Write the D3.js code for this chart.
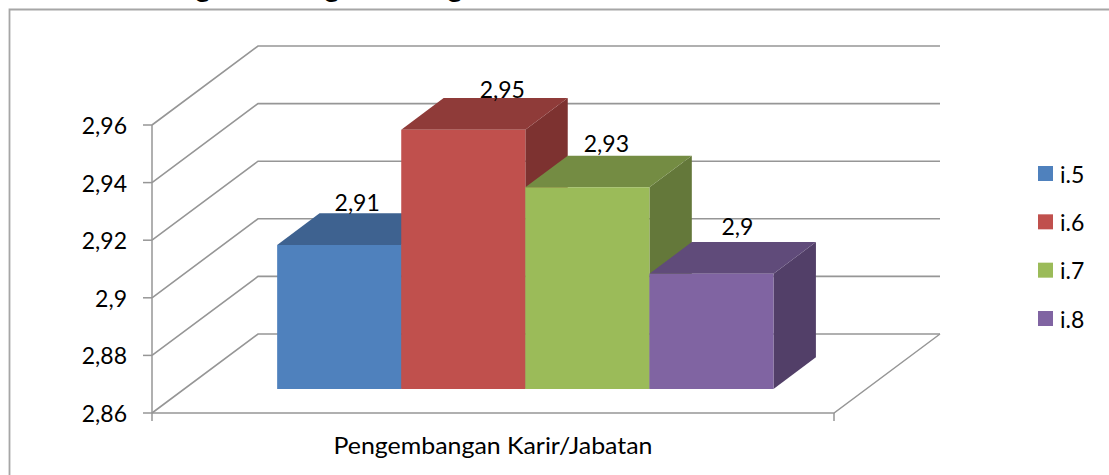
<!DOCTYPE html>
<html><head><meta charset="utf-8">
<script src="https://cdn.jsdelivr.net/npm/d3@7"></script>
<style>html,body{margin:0;background:#fff}svg{display:block}text{font-family:Lato,"Open Sans",sans-serif;fill:#000}</style>
</head><body><svg width="1109" height="475"></svg>
<script>
const seriesNames=["i.5","i.6","i.7","i.8"];
const seriesValues=[2.91,2.95,2.93,2.9];
const valueLabels=["2,91","2,95","2,93","2,9"];
const tickValues=[2.86,2.88,2.9,2.92,2.94,2.96];
const tickLabels=["2,86","2,88","2,9","2,92","2,94","2,96"];
const categoryLabel="Pengembangan Karir/Jabatan";
const titleFragments=["g","g","g"];
const frontColors=["#4f81bd","#c0504d","#9bbb59","#8064a2"];
const topColors=["#3e6290","#8f3b39","#748c43","#604b7a"];
const sideColors=["#345378","#7d3230","#64783a","#523f68"];
// label nudges relative to each bar's top
const labelDx=[-3,18,-2,5];
const labelDy=[-2,0,-4,-7];

const svg=d3.select("svg");
const y=d3.scaleLinear().domain([2.86,2.96]).range([413,125]);
const x=d3.scaleBand().domain(seriesNames).range([152,834]).paddingInner(0).paddingOuter(0.748);
const depthX=d3.scaleLinear().domain([0,1]).range([0,106]);
const depthY=d3.scaleLinear().domain([0,1]).range([0,-79]);
const grey="#969696";
const pt=(px,val,d)=>[px+depthX(d),y(val)+depthY(d)];
const line=d3.line();

// chart frame
svg.append("path").attr("d","M9.5,475V9.5H1109").attr("fill","none").attr("stroke","#a6a6a6").attr("stroke-width",1.8);

// only the descenders of the title survive the crop at the top edge
const titleX=[203,332,455];
titleFragments.forEach((t,i)=>svg.append("text").attr("x",titleX[i]).attr("y",-3.5).attr("text-anchor","middle").attr("font-weight",900).attr("font-size",28).text(t));

// walls and floor gridlines
const [x0,x1]=x.range();
tickValues.forEach(t=>{
  svg.append("path").attr("fill","none").attr("stroke",grey).attr("stroke-width",1.6)
    .attr("d",line([pt(x0,t,0),pt(x0,t,1),pt(x1,t,1)]));
});
svg.append("path").attr("fill","none").attr("stroke",grey).attr("stroke-width",1.5)
  .attr("d",line([pt(x1,2.86,1),pt(x1,2.86,0),pt(x0,2.86,0)]));
// value axis
svg.append("path").attr("fill","none").attr("stroke",grey).attr("stroke-width",1.5)
  .attr("d",line([[x0,y(2.96)],[x0,y(2.86)]]));
tickValues.forEach((t,i)=>{
  svg.append("path").attr("stroke",grey).attr("stroke-width",1.5).attr("d",line([[x0-9,y(t)],[x0,y(t)]]));
  svg.append("text").attr("x",x0-25).attr("y",y(t)+9).attr("text-anchor","end").attr("font-size",23).text(tickLabels[i]);
});
// category ticks
[x0,x1].forEach(px=>svg.append("path").attr("stroke",grey).attr("stroke-width",1.5).attr("d",line([[px,y(2.86)],[px,y(2.86)+8]])));
svg.append("text").attr("x",(x0+x1)/2).attr("y",454).attr("text-anchor","middle").attr("font-size",23)
  .attr("textLength",319).attr("lengthAdjust","spacingAndGlyphs").text(categoryLabel);

// bars
const D0=0.305,D1=0.705;
seriesNames.forEach((s,i)=>{
  const l=x(s),r=l+x.bandwidth(),v=seriesValues[i];
  const g=svg.append("g");
  g.append("path").attr("fill",sideColors[i]).attr("d",line([pt(r,v,D0),pt(r,v,D1),pt(r,2.86,D1),pt(r,2.86,D0)])+"Z");
  g.append("path").attr("fill",topColors[i]).attr("d",line([pt(l,v,D0),pt(l,v,D1),pt(r,v,D1),pt(r,v,D0)])+"Z");
  g.append("path").attr("fill",frontColors[i]).attr("d",line([pt(l,v,D0),pt(r,v,D0),pt(r,2.86,D0),pt(l,2.86,D0)])+"Z");
});
// value labels
seriesNames.forEach((s,i)=>{
  const p=pt(x(s)+x.bandwidth()/2,seriesValues[i],D0);
  svg.append("text").attr("x",p[0]+labelDx[i]+21).attr("y",y(seriesValues[i])+depthY(D1)+labelDy[i]).attr("text-anchor","middle").attr("font-size",23).text(valueLabels[i]);
});

// legend
const legY=d3.scalePoint().domain(seriesNames).range([173.5,318.5]);
seriesNames.forEach((s,i)=>{
  svg.append("rect").attr("x",1038).attr("y",legY(s)-7.5).attr("width",15).attr("height",15).attr("fill",frontColors[i]);
  svg.append("text").attr("x",1060).attr("y",legY(s)+9).attr("font-size",23).text(s);
});
</script></body></html>
